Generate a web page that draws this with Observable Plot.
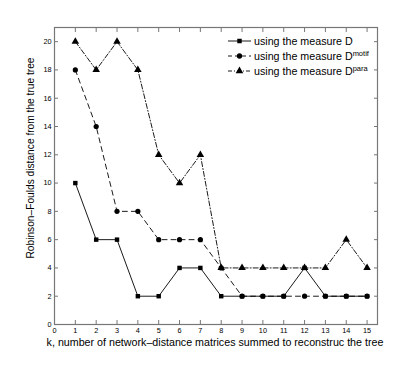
<!DOCTYPE html>
<html><head><meta charset="utf-8">
<script src="https://cdn.jsdelivr.net/npm/d3@7"></script>
<script src="https://cdn.jsdelivr.net/npm/@observablehq/plot@0.6"></script>
<style>body{margin:0;background:#fff;font-family:"Liberation Sans",Arial,sans-serif}</style>
</head><body><div id="chart"></div>
<script>
const k = [1,2,3,4,5,6,7,8,9,10,11,12,13,14,15];
const measureD = [10,6,6,2,2,4,4,2,2,2,2,4,2,2,2];
const measureMotif = [18,14,8,8,6,6,6,4,2,2,2,2,2,2,2];
const measurePara = [20,18,20,18,12,10,12,4,4,4,4,4,4,6,4];
const xTicks = [0,1,2,3,4,5,6,7,8,9,10,11,12,13,14,15];
const yTicks = [0,2,4,6,8,10,12,14,16,18,20];
const seriesNames = ["using the measure D","using the measure D","using the measure D"];
const seriesSups = ["","motif","para"];

const rows = (vals) => k.map((x,i)=>({x, y: vals[i]}));
const dD = rows(measureD), dM = rows(measureMotif), dP = rows(measurePara);
const axisCol = "#777";

const plot = Plot.plot({
  width: 415, height: 365,
  marginLeft: 54, marginRight: 38, marginTop: 27, marginBottom: 41,
  style: {fontFamily: '"Liberation Sans", Arial, sans-serif', fontSize: "7.3px", background: "#fff"},
  x: {domain: [0, 15.5], axis: null},
  y: {domain: [0, 21], axis: null},
  marks: [
    Plot.lineY(dP, {x:"x", y:"y", stroke:"#000", strokeWidth:0.9, strokeDasharray:"5,2,1,2"}),
    Plot.lineY(dM, {x:"x", y:"y", stroke:"#000", strokeWidth:0.9, strokeDasharray:"5,4"}),
    Plot.lineY(dD, {x:"x", y:"y", stroke:"#000", strokeWidth:0.9}),
    Plot.dot(dP, {x:"x", y:"y", symbol:"triangle", r:2.8, fill:"#000", stroke:"none"}),
    Plot.dot(dM, {x:"x", y:"y", symbol:"circle", r:2.6, fill:"#000", stroke:"none"}),
    Plot.dot(dD, {x:"x", y:"y", symbol:"square", r:2.5, fill:"#000", stroke:"none"}),
    Plot.axisX(xTicks, {anchor:"bottom", tickSize:-4, text:null, stroke:axisCol, label:null}),
    Plot.axisX(xTicks, {anchor:"top", tickSize:-4, text:null, stroke:axisCol, label:null}),
    Plot.axisX(xTicks, {anchor:"bottom", tickSize:0, tickPadding:3, fill:"#000", label:null}),
    Plot.axisY(yTicks, {anchor:"left", tickSize:-4, text:null, stroke:axisCol, label:null}),
    Plot.axisY(yTicks, {anchor:"right", tickSize:-4, text:null, stroke:axisCol, label:null}),
    Plot.axisY(yTicks, {anchor:"left", tickSize:0, tickPadding:3, fill:"#000", label:null}),
    Plot.frame({stroke: axisCol, strokeWidth: 1.2})
  ]
});
document.getElementById("chart").appendChild(plot);

const svg = d3.select(plot);
const ff = '"Liberation Sans", Arial, sans-serif';
svg.append("text").attr("x", 215).attr("y", 346).attr("text-anchor","middle")
  .attr("font-size", 10.7).attr("font-family", ff).attr("fill","#000")
  .text("k, number of network\u2013distance matrices summed to reconstruc the tree");
svg.append("text").attr("transform","translate(34,158) rotate(-90)").attr("text-anchor","middle")
  .attr("font-size", 10.2).attr("font-family", ff).attr("fill","#000")
  .text("Robinson\u2013Foulds distance from the true tree");

// legend
const styles = [
  {dash:null, sym:d3.symbolSquare, size:20},
  {dash:"4,3", sym:d3.symbolCircle, size:22},
  {dash:"4,2,1,2", sym:d3.symbolTriangle, size:25}
];
const lg = svg.append("g");
[41, 56, 71].forEach((yy, i) => {
  const g = lg.append("g");
  g.append("line").attr("x1",228).attr("x2",251).attr("y1",yy).attr("y2",yy)
   .attr("stroke","#000").attr("stroke-width",0.9).attr("stroke-dasharray", styles[i].dash);
  g.append("path").attr("d", d3.symbol(styles[i].sym, styles[i].size)()).attr("transform",`translate(239.5,${yy})`).attr("fill","#000");
  const t = g.append("text").attr("x",254).attr("y",yy+3.5).attr("text-anchor","start")
   .attr("font-size",10.7).attr("font-family",ff).attr("fill","#000");
  t.append("tspan").text(seriesNames[i]);
  if (seriesSups[i]) t.append("tspan").attr("dy",-4).attr("font-size",7.5).text(seriesSups[i]);
});
</script></body></html>
